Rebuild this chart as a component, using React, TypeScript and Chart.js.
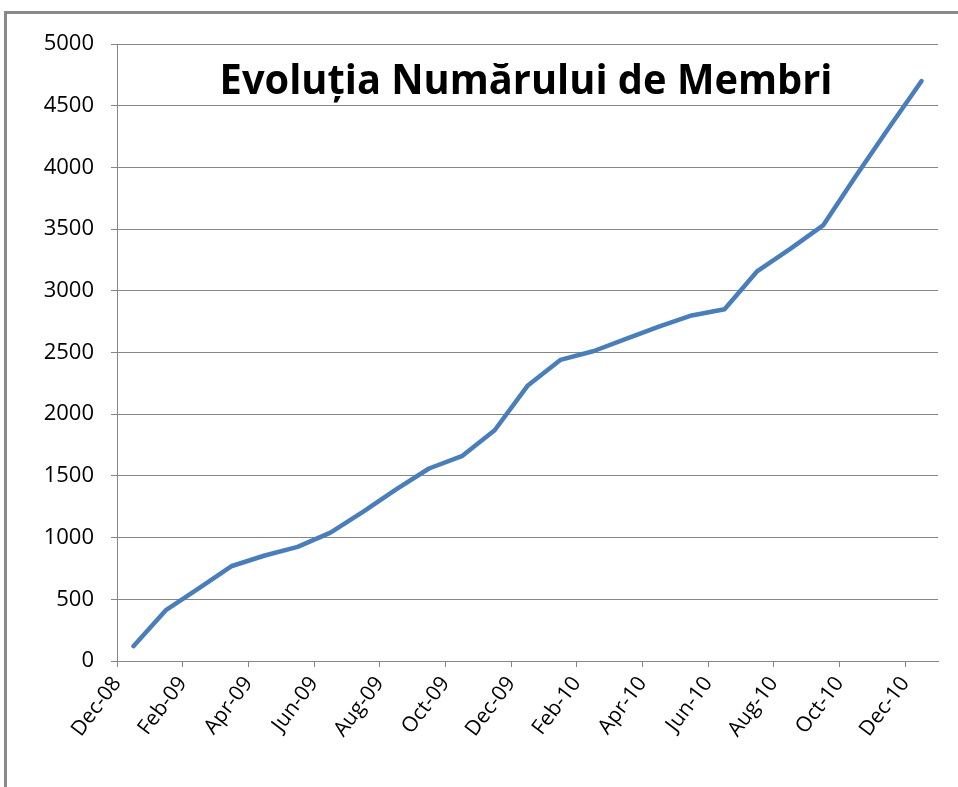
import React, { useEffect, useLayoutEffect, useRef } from "react";
import { Chart, registerables } from "chart.js";

Chart.register(...registerables);

// Months with data (one point per month, plotted mid-month)
const monthLabels = [
  "Dec-08", "Jan-09", "Feb-09", "Mar-09", "Apr-09", "May-09", "Jun-09",
  "Jul-09", "Aug-09", "Sep-09", "Oct-09", "Nov-09", "Dec-09", "Jan-10",
  "Feb-10", "Mar-10", "Apr-10", "May-10", "Jun-10", "Jul-10", "Aug-10",
  "Sep-10", "Oct-10", "Nov-10", "Dec-10",
];

// Number of members
const members = [
  120, 415, 590, 770, 855, 925, 1040, 1210, 1390, 1560, 1660, 1870, 2230,
  2440, 2510, 2610, 2710, 2800, 2850, 3160, 3340, 3530, 3930, 4320, 4700,
];

// X axis ticks (month offset from Dec-08) and their labels
const tickMonths = [0, 2, 4, 6, 8, 10, 12, 14, 16, 18, 20, 22, 24];
const tickLabels = [
  "Dec-08", "Feb-09", "Apr-09", "Jun-09", "Aug-09", "Oct-09", "Dec-09",
  "Feb-10", "Apr-10", "Jun-10", "Aug-10", "Oct-10", "Dec-10",
];

const yMin = 0;
const yMax = 5000;
const yStep = 500;

const TITLE = "Evoluția Numărului de Membri";

const FONT_FAMILY = "'Open Sans', 'Liberation Sans', sans-serif";

export default function App() {
  const canvasRef = useRef<HTMLCanvasElement | null>(null);
  const titleRef = useRef<HTMLSpanElement | null>(null);

  useLayoutEffect(() => {
    const el = titleRef.current;
    if (!el) return;
    const w = el.offsetWidth;
    const target = 613;
    if (w > 0) {
      el.style.transform = `translateX(-50%) scaleX(${target / w})`;
    }
  }, []);

  useEffect(() => {
    const canvas = canvasRef.current;
    if (!canvas) return;
    const tickFont = { family: FONT_FAMILY, size: 21 };
    const chart = new Chart(canvas, {
      type: "line",
      data: {
        labels: monthLabels,
        datasets: [
          {
            label: "Membri",
            data: members.map((v, i) => ({ x: i + 0.5, y: v })),
            borderColor: "#4A7EBB",
            backgroundColor: "#4A7EBB",
            borderWidth: 4.5,
            pointRadius: 0,
            tension: 0,
            borderCapStyle: "round",
            borderJoinStyle: "round",
            fill: false,
          },
        ],
      },
      options: {
        animation: false,
        responsive: false,
        layout: { padding: { left: 0, top: 44, right: 20, bottom: 0 } },
        plugins: {
          legend: { display: false },
          tooltip: { enabled: false },
          title: { display: false },
        },
        scales: {
          x: {
            type: "linear",
            min: 0,
            max: 25,
            afterBuildTicks: (s: any) => {
              s.ticks = tickMonths.map((v) => ({ value: v }));
            },
            afterFit: (s: any) => {
              s.height = 126;
            },
            ticks: {
              autoSkip: false,
              minRotation: 53,
              maxRotation: 53,
              padding: 5,
              color: "#000",
              font: tickFont,
              callback: (value: any) => {
                const idx = tickMonths.indexOf(Number(value));
                return idx >= 0 ? tickLabels[idx] : "";
              },
            },
            grid: {
              drawOnChartArea: false,
              drawTicks: true,
              tickLength: 6,
              color: "#868686",
              lineWidth: 1,
            },
            border: { display: true, color: "#868686", width: 1 },
          },
          y: {
            min: yMin,
            max: yMax,
            afterFit: (s: any) => {
              s.width = 117;
            },
            ticks: {
              stepSize: yStep,
              padding: 17,
              color: "#000",
              font: { family: FONT_FAMILY, size: 22 },
              callback: (value: any) => String(value),
            },
            grid: {
              color: "#868686",
              lineWidth: 1,
              tickLength: 6,
              drawTicks: true,
            },
            border: { display: true, color: "#868686", width: 1 },
          },
        },
      },
    } as any);
    return () => chart.destroy();
  }, []);

  return (
    <div
      style={{
        position: "fixed",
        left: 0,
        top: 0,
        width: 958,
        height: 787,
        background: "#fff",
        overflow: "hidden",
      }}
    >
      <div
        style={{
          position: "absolute",
          left: 4,
          top: 11,
          width: 1000,
          height: 900,
          borderLeft: "3px solid #8a8a8a",
          borderTop: "3px solid #8a8a8a",
        }}
      />
      <canvas
        ref={canvasRef}
        width={958}
        height={787}
        style={{ position: "absolute", left: 0, top: 0, width: 958, height: 787 }}
      />
      <span
        ref={titleRef}
        style={{
          position: "absolute",
          left: 526,
          top: 50,
          whiteSpace: "nowrap",
          fontFamily: FONT_FAMILY,
          fontWeight: 700,
          fontSize: 42,
          lineHeight: "56px",
          color: "#000",
          transformOrigin: "50% 50%",
          transform: "translateX(-50%)",
        }}
      >
        {TITLE}
      </span>
    </div>
  );
}
